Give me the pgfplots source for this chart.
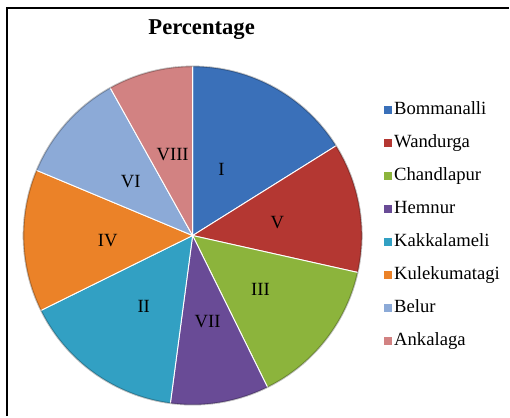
\documentclass[border=0pt]{standalone}
\usepackage{pgfplots}
\pgfplotsset{compat=1.18}
\usepackage{pgfplotstable}
\usepackage{fontspec}
\setmainfont{Liberation Serif}

\definecolor{cI}{RGB}{58,112,185}
\definecolor{cV}{RGB}{180,55,50}
\definecolor{cIII}{RGB}{140,180,60}
\definecolor{cVII}{RGB}{105,75,150}
\definecolor{cII}{RGB}{50,160,195}
\definecolor{cIV}{RGB}{235,130,40}
\definecolor{cVI}{RGB}{140,170,215}
\definecolor{cVIII}{RGB}{210,130,130}

\pgfplotstableread{
name pct
Bommanalli 16.1
Wandurga 12.4
Chandlapur 14.2
Hemnur 9.4
Kakkalameli 15.6
Kulekumatagi 13.6
Belur 10.6
Ankalaga 8.1
}\pietable

\def\cumangle{0}
\foreach \i/\n in {0/A,1/B,2/C,3/D,4/E,5/F,6/G,7/H}{%
  \pgfplotstablegetelem{\i}{pct}\of\pietable
  \pgfmathsetmacro{\tmpend}{\cumangle+3.6*\pgfplotsretval}%
  \expandafter\xdef\csname sa\n\endcsname{\cumangle}%
  \expandafter\xdef\csname ea\n\endcsname{\tmpend}%
  \xdef\cumangle{\tmpend}%
}

\begin{document}
\begin{tikzpicture}
\begin{axis}[
  width=382.5pt, height=312.75pt, scale only axis,
  xmin=0, xmax=510, ymin=0, ymax=417, y dir=reverse,
  hide axis, clip=false,
  legend cell align=left,
  legend style={at={(axis cs:385,226)}, anchor=west, draw=none, fill=none,
    inner sep=0pt, outer sep=0pt, font=\fontsize{14}{16}\selectfont,
    nodes={inner sep=1.5pt, text height=10pt, text depth=3pt},
    row sep=8.75pt},
  legend image code/.code={\path[#1, draw=none] (0pt,-3pt) rectangle (6pt,3pt);},
  pie/.style={draw=white, line width=0.7pt, samples=60},
]
\path (axis cs:0,0) rectangle (axis cs:510,417);
\addplot[pie, fill=cI,   domain=\saA:\eaA] ({193+170*sin(x)},{236-170*cos(x)}) -- (193,236) -- cycle;
\addplot[pie, fill=cV,   domain=\saB:\eaB] ({193+170*sin(x)},{236-170*cos(x)}) -- (193,236) -- cycle;
\addplot[pie, fill=cIII, domain=\saC:\eaC] ({193+170*sin(x)},{236-170*cos(x)}) -- (193,236) -- cycle;
\addplot[pie, fill=cVII, domain=\saD:\eaD] ({193+170*sin(x)},{236-170*cos(x)}) -- (193,236) -- cycle;
\addplot[pie, fill=cII,  domain=\saE:\eaE] ({193+170*sin(x)},{236-170*cos(x)}) -- (193,236) -- cycle;
\addplot[pie, fill=cIV,  domain=\saF:\eaF] ({193+170*sin(x)},{236-170*cos(x)}) -- (193,236) -- cycle;
\addplot[pie, fill=cVI,  domain=\saG:\eaG] ({193+170*sin(x)},{236-170*cos(x)}) -- (193,236) -- cycle;
\addplot[pie, fill=cVIII,domain=\saH:\eaH] ({193+170*sin(x)},{236-170*cos(x)}) -- (193,236) -- cycle;
\legend{Bommanalli,Wandurga,Chandlapur,Hemnur,Kakkalameli,Kulekumatagi,Belur,Ankalaga}
\addplot[forget plot, draw=black, opacity=0.25, line width=1.2pt, domain=0:360, samples=120] ({193+169.5*sin(x)},{236-169.5*cos(x)});

\begin{scope}[every node/.style={font=\fontsize{14}{16}\selectfont, inner sep=0pt}]
\node at (axis cs:222,170) {I};
\node at (axis cs:278,223) {V};
\node at (axis cs:261,290) {III};
\node at (axis cs:208,322) {VII};
\node at (axis cs:144,307) {II};
\node at (axis cs:108,241) {IV};
\node at (axis cs:131,182) {VI};
\node at (axis cs:173,155) {VIII};
\end{scope}
\node[font=\bfseries\fontsize{17}{20}\selectfont] at (axis cs:202,30) {Percentage};
\draw[black, line width=1.5pt] (axis cs:7,417) -- (axis cs:7,8) -- (axis cs:510,8);
\end{axis}
\end{tikzpicture}
\end{document}
